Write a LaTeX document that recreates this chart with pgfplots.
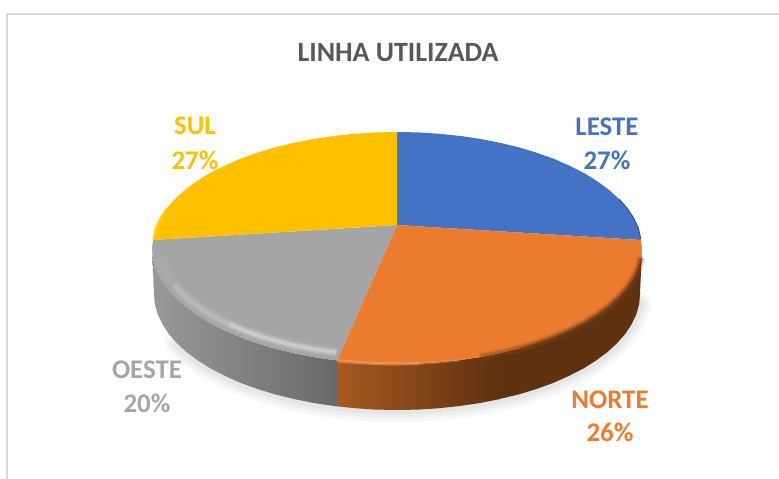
\documentclass[border=0pt]{standalone}
\usepackage{pgfplots}
\pgfplotsset{compat=1.18}
\usepackage{pgfplotstable}
\usepackage{fontspec}
\setmainfont{Carlito}
\definecolor{cBlue}{HTML}{4472C4}
\definecolor{cOrange}{HTML}{EB7B2F}
\definecolor{cGrey}{HTML}{A5A5A5}
\definecolor{cYellow}{HTML}{FFC000}
\definecolor{cTitle}{HTML}{595959}
\definecolor{cDark}{RGB}{94,49,16}
\pgfplotstableread{
x y
397 225
397 132
418.4 132.4
439.5 133.8
460.4 136
480.8 139
500.5 142.9
519.5 147.5
537.5 153
554.5 159.1
570.2 166
584.7 173.4
597.7 181.5
609.2 190
619 199
627.2 208.3
633.6 218
638.3 227.9
640.8 240
}\blue
\pgfplotstableread{
x y
397 225
640.8 240
642 248
641.1 258.1
638.3 268.1
633.6 278
627.2 287.7
619 297
609.2 306
597.7 314.5
584.7 322.6
570.2 330
554.5 336.9
537.5 343
519.5 348.5
500.5 353.1
480.8 357
460.4 360
439.5 362.2
418.4 363.6
397 364
375.6 363.6
354.5 362.2
337 360.4
}\orange
\pgfplotstableread{
x y
397 225
337 360.4
333.6 360
313.2 357
293.5 353.1
274.5 348.5
256.5 343
239.5 336.9
223.8 330
209.3 322.6
196.3 314.5
184.8 306
175 297
166.8 287.7
160.4 278
155.7 268.1
152.9 258.1
152 248
153 240
}\grey
\pgfplotstableread{
x y
397 225
153 240
155.7 227.9
160.4 218
166.8 208.3
175 199
184.8 190
196.3 181.5
209.3 173.4
223.8 166
239.5 159.1
256.5 153
274.5 147.5
293.5 142.9
313.2 139
333.6 136
354.5 133.8
375.6 132.4
397 132
}\yellow
\pgfplotstableread{
x y
152 248
152.9 258.1
155.7 268.1
160.4 278
166.8 287.7
175 297
184.8 306
196.3 314.5
209.3 322.6
223.8 330
239.5 336.9
256.5 343
274.5 348.5
293.5 353.1
313.2 357
333.6 360
337 360.4
337 406.3
334.1 406
313.9 403
294.3 399.1
275.5 394.5
257.6 389
240.8 382.9
225.2 376
210.8 368.6
197.9 360.5
186.5 352
176.8 343
168.6 333.7
162.3 324
157.6 314.1
154.8 304.1
154 294
}\greyside
\pgfplotstableread{
x y
337 360.4
354.5 362.2
375.6 363.6
397 364
418.4 363.6
439.5 362.2
460.4 360
480.8 357
500.5 353.1
500 399
480.1 403
459.9 406
439.2 408.2
418.2 409.6
397 410
375.8 409.6
354.8 408.2
337 406.3
}\orangesideA
\pgfplotstableread{
x y
499 352
519.5 348.5
537.5 343
554.5 336.9
570.2 330
584.7 322.6
597.7 314.5
609.2 306
619 297
627.2 287.7
633.6 278
638.3 268.1
641.1 258.1
642 248
640 294
639.2 304.1
636.4 314.1
631.7 324
625.4 333.7
617.2 343
607.5 352
596.1 360.5
583.2 368.6
568.8 376
553.2 382.9
536.4 389
518.5 394.5
499 399.1
}\orangesideB
\pgfplotstableread{
x y
176.8 343
186.5 352
197.9 360.5
210.8 368.6
225.2 376
240.8 382.9
257.6 389
275.5 394.5
294.3 399.1
313.9 403
334.1 406
354.8 408.2
375.8 409.6
397 410
418.2 409.6
439.2 408.2
459.9 406
480.1 403
499.7 399.1
518.5 394.5
536.4 389
553.2 382.9
568.8 376
583.2 368.6
596.1 360.5
607.5 352
617.2 343
625.4 333.7
631.7 324
636.4 314.1
639.2 304.1
}\bottomcurve
\pgfplotstableread{
x y
160.9 257.4
163.6 266.7
168.2 275.9
174.4 285
182.3 293.6
191.8 302
203 309.9
215.5 317.5
229.5 324.3
244.7 330.8
261.1 336.5
278.6 341.6
296.9 345.9
316 349.5
336.5 352.4
}\greyhiA
\pgfplotstableread{
x y
174.4 285
182.3 293.6
191.8 302
203 309.9
215.5 317.5
229.5 324.3
244.7 330.8
261.1 336.5
278.6 341.6
296.9 345.9
316 349.5
336.5 352.4
}\greyhiB
\pgfplotstableread{
x y
229.5 324.3
244.7 330.8
261.1 336.5
278.6 341.6
296.9 345.9
316 349.5
336.5 352.4
}\greyhiC
\pgfplotstableread{
x y
480.8 357
500.5 353.1
519.5 348.5
537.5 343
554.5 336.9
570.2 330
584.7 322.6
597.7 314.5
609.2 306
619 297
627.2 287.7
633.6 278
638.3 268.1
641.1 258.1
}\orangeedgeA
\pgfplotstableread{
x y
519.5 348.5
537.5 343
554.5 336.9
570.2 330
584.7 322.6
597.7 314.5
609.2 306
619 297
627.2 287.7
633.6 278
638.3 268.1
641.1 258.1
}\orangeedgeB
\begin{document}
\begin{tikzpicture}
\path[use as bounding box] (0,0) rectangle (779bp,479bp);
\begin{axis}[
  scale only axis, width=779bp, height=479bp,
  xmin=0, xmax=779, ymin=0, ymax=479, y dir=reverse,
  hide axis, clip=false, anchor=south west, at={(0,0)},
  every axis plot/.append style={mark=none}]
% chart frame
\addplot[draw=black!15, line width=1.2pt] coordinates {(7,479) (7,14) (779,14)};
% soft shadow
\addplot[draw=black, opacity=0.03, line width=24pt, line cap=round] table {\bottomcurve};
\addplot[draw=black, opacity=0.035, line width=16pt, line cap=round] table {\bottomcurve};
\addplot[draw=black, opacity=0.04, line width=9pt, line cap=round] table {\bottomcurve};
% side walls
\addplot[draw=none, left color=black!40, right color=black!59] table {\greyside};
\addplot[draw=none, fill=cDark] table {\orangesideB};
\addplot[draw=none, left color={rgb,255:red,166;green,89;blue,32}, right color=cDark] table {\orangesideA};
% top face
\addplot[draw=none, fill=cBlue] table {\blue};
\addplot[draw=none, fill=cOrange] table {\orange};
\addplot[draw=none, fill=cGrey] table {\grey};
\addplot[draw=none, fill=cYellow] table {\yellow};
% bevel, grey
\addplot[draw=white, opacity=.06, line width=11pt] table {\greyhiA};
\addplot[draw=white, opacity=.07, line width=7pt] table {\greyhiB};
\addplot[draw=white, opacity=.10, line width=4pt] table {\greyhiB};
\addplot[draw=white, opacity=.12, line width=7pt] table {\greyhiC};
\addplot[draw=white, opacity=.18, line width=3pt] table {\greyhiC};
% bevel, orange
\addplot[draw={rgb,255:red,255;green,165;blue,90}, opacity=.35, line width=3.5pt] coordinates {(338,361) (354.5,362.2) (375.6,363.6) (397,364) (418.4,363.6)};
\addplot[draw={rgb,255:red,255;green,165;blue,90}, opacity=.25, line width=3pt] coordinates {(338,361) (354.5,362.2) (375.6,363.6) (397,364) (418.4,363.6) (439.5,362.2) (460.4,360)};
\addplot[draw={rgb,255:red,140;green,74;blue,26}, opacity=.22, line width=8pt] table {\orangeedgeA};
\addplot[draw={rgb,255:red,120;green,64;blue,22}, opacity=.30, line width=5pt] table {\orangeedgeA};
\addplot[draw={rgb,255:red,110;green,58;blue,20}, opacity=.45, line width=2.5pt] table {\orangeedgeB};
\addplot[draw={rgb,255:red,255;green,214;blue,30}, line width=2pt] coordinates {(153.4,239) (155.7,227.9) (160.4,218) (166.8,208.3)};
\addplot[draw={rgb,255:red,47;green,85;blue,151}, line width=1pt] coordinates {(640.8,239) (638.3,227.9) (633.6,218) (627.2,208.3) (619,199)};
% texts
\node[text=cTitle, font=\fontsize{28}{32}\selectfont\bfseries] at (axis cs:398,53) {LINHA UTILIZADA};
\node[text=cBlue, font=\fontsize{27}{32}\selectfont\bfseries] at (axis cs:607,127) {LESTE};
\node[text=cBlue, font=\fontsize{27}{32}\selectfont\bfseries] at (axis cs:607,160) {27\%};
\node[text=cYellow, font=\fontsize{27}{32}\selectfont\bfseries] at (axis cs:195,126) {SUL};
\node[text=cYellow, font=\fontsize{27}{32}\selectfont\bfseries] at (axis cs:195,160) {27\%};
\node[text=cGrey, font=\fontsize{27}{32}\selectfont\bfseries] at (axis cs:147,370) {OESTE};
\node[text=cGrey, font=\fontsize{27}{32}\selectfont\bfseries] at (axis cs:147,403) {20\%};
\node[text=cOrange, font=\fontsize{27}{32}\selectfont\bfseries] at (axis cs:610,400) {NORTE};
\node[text=cOrange, font=\fontsize{27}{32}\selectfont\bfseries] at (axis cs:610,432) {26\%};
\end{axis}
\end{tikzpicture}
\end{document}
